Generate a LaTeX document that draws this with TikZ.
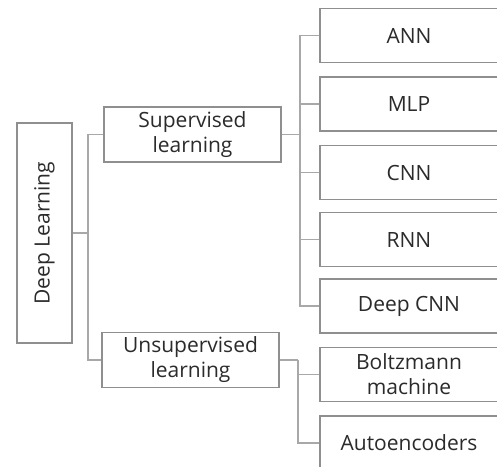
\documentclass[tikz,border=0pt]{standalone}
\usepackage{fontspec}
\setmainfont{Open Sans}
\definecolor{boxgray}{HTML}{8F8F8F}
\definecolor{linegray}{HTML}{A8A8A8}
\definecolor{txt}{HTML}{2B2B2B}
\newcommand{\lt}[1]{#1\kern12pt}
\begin{document}
\begin{tikzpicture}[x=1pt,y=-1pt,
  box/.style={draw=boxgray, line width=1.2pt, inner sep=0pt, align=center,
    font=\fontsize{21}{25}\selectfont, text=txt, fill=white},
  leaf/.style={box, minimum width=190pt, minimum height=54pt},
  mid/.style={box, minimum width=177pt, minimum height=55pt},
  conn/.style={draw=linegray, line width=1.5pt}]
\useasboundingbox (0,0) rectangle (497,466);
\clip (0,0) rectangle (497,466);
\coordinate (j1) at (88,233);
\coordinate (j2) at (300,134.5);
\coordinate (j3) at (298,360);
% nodes
\node[box, rotate=90, minimum width=220pt, minimum height=55pt] (dl) at (44.5,233) {Deep Learning};
\node[mid] (sup) at (192.5,134.5) {Supervised\\learning};
\node[mid] (uns) at (190.5,360) {Unsupervised\\learning};
\node[leaf] (ann) at (415,35.5) {\lt{ANN}};
\node[leaf] (mlp) at (415,104) {\lt{MLP}};
\node[leaf] (cnn) at (415,172.5) {\lt{CNN}};
\node[leaf] (rnn) at (415,239.5) {\lt{RNN}};
\node[leaf] (dcnn) at (415,306) {\lt{Deep CNN}};
\node[leaf] (boltz) at (415,374.5) {\lt{Boltzmann}\\\lt{machine}};
\node[leaf] (auto) at (415,443) {\lt{Autoencoders}};
% edges
\draw[conn] (dl.south) -- (j1);
\draw[conn] (sup.west) -| (j1);
\draw[conn] (uns.west) -| (j1);
\draw[conn] (sup.east) -- (j2);
\foreach \n in {ann,mlp,cnn,rnn,dcnn}{\draw[conn] (\n.west) -| (j2);}
\draw[conn] (uns.east) -- (j3);
\foreach \n in {boltz,auto}{\draw[conn] (\n.west) -| (j3);}
\end{tikzpicture}
\end{document}
